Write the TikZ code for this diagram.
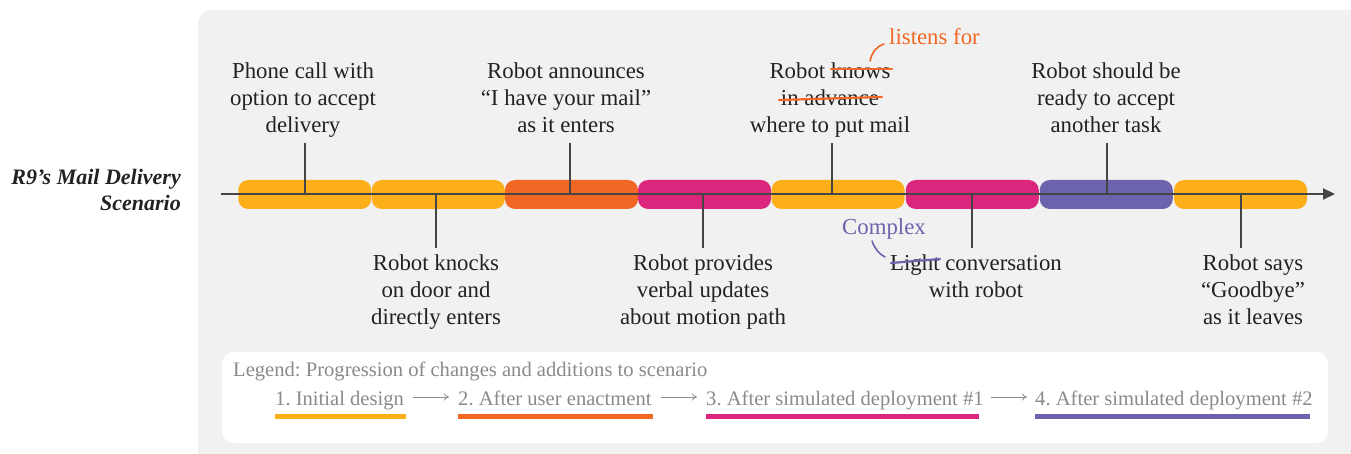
\documentclass[tikz,border=0pt]{standalone}
\usepackage{fontspec}
\setmainfont{Liberation Serif}
\usetikzlibrary{arrows.meta}
\frenchspacing
\definecolor{bgpanel}{HTML}{F1F1F1}
\definecolor{cOr}{HTML}{FDAF19}
\definecolor{cRd}{HTML}{F26724}
\definecolor{cMg}{HTML}{DC257C}
\definecolor{cPu}{HTML}{6C63AD}
\definecolor{txt}{HTML}{222222}
\definecolor{legtxt}{HTML}{8A8A8A}
\definecolor{axiscol}{HTML}{454545}
\begin{document}
\begin{tikzpicture}[x=1pt,y=-1pt,
  seg/.style={rounded corners=10pt, minimum width=133pt, minimum height=29pt, inner sep=0pt, outer sep=0pt},
  lbl/.style={align=center, text=txt, font=\fontsize{22.8}{27}\selectfont, inner sep=0pt, anchor=north},
  ticks/.style={draw=axiscol, line width=1.3pt},
  strk/.style={line width=2.2pt, line cap=round},
  legfont/.style={text=legtxt, font=\fontsize{20.6}{25}\selectfont, inner sep=0pt, anchor=base west},
  legbar/.style={line width=5pt},
  legarrow/.style={draw=legtxt, line width=0.8pt, -{To[length=5pt,width=7pt]}}]
\useasboundingbox (0,0) rectangle (1351,454);
% panel
\fill[bgpanel, rounded corners=14pt] (198,10) rectangle (1400,500);
% title
\node[align=right, anchor=base east, inner sep=0pt, text=txt, font=\fontsize{22}{26}\selectfont\bfseries\itshape] (title) at (181,211) {R9’s Mail Delivery\\Scenario};
% segments
\node[seg, fill=cOr] (s1) at (304.75,194.5) {};
\node[seg, fill=cOr] (s2) at (438.25,194.5) {};
\node[seg, fill=cRd] (s3) at (571.5,194.5) {};
\node[seg, fill=cMg] (s4) at (704.5,194.5) {};
\node[seg, fill=cOr] (s5) at (838,194.5) {};
\node[seg, fill=cMg] (s6) at (972.25,194.5) {};
\node[seg, fill=cPu] (s7) at (1106.25,194.5) {};
\node[seg, fill=cOr] (s8) at (1240.5,194.5) {};
% axis
\coordinate (a0) at (221,194);
\coordinate (a1) at (1335,194);
\draw[axiscol, line width=2pt, -{Triangle[length=12pt,width=11pt]}] (a0) -- (a1);
% labels above
\node[lbl] (t1) at (303,62.5) {Phone call with\\option to accept\\delivery};
\node[lbl] (t3) at (566,62.5) {Robot announces\\“I have your mail”\\as it enters};
\node[lbl] (t5) at (830,62.5) {Robot knows\\in advance\\where to put mail};
\node[lbl] (t7) at (1106,62.5) {Robot should be\\ready to accept\\another task};
% labels below
\node[lbl] (t2) at (436,254.6) {Robot knocks\\on door and\\directly enters};
\node[lbl] (t4) at (703,254.6) {Robot provides\\verbal updates\\about motion path};
\node[lbl] (t6) at (976,254.6) {Light conversation\\with robot};
\node[lbl] (t8) at (1253,254.6) {Robot says\\“Goodbye”\\as it leaves};
% ticks
\draw[ticks] (305,143) -- (305,194);
\draw[ticks] (570,143) -- (570,194);
\draw[ticks] (832,143) -- (832,194);
\draw[ticks] (1107,143) -- (1107,194);
\draw[ticks] (436,194) -- (436,248);
\draw[ticks] (703,194) -- (703,248);
\draw[ticks] (972,194) -- (972,248);
\draw[ticks] (1241,194) -- (1241,248);
% edits
\draw[cRd, strk] (831,69) -- (892,69);
\draw[cRd, strk] (779,100) -- (882,97);
\draw[cRd, line width=1.6pt, line cap=round] (870,61) .. controls (872,52) and (877,46) .. (884,44);
\node[anchor=base west, inner sep=0pt, text=cRd, font=\fontsize{22.8}{27}\selectfont] (ed1) at (889,45) {listens for};
\draw[cPu, strk] (891,263) -- (940,259);
\draw[cPu, line width=1.6pt, line cap=round] (872,241) .. controls (875,249) and (879,254) .. (885,257);
\node[anchor=base west, inner sep=0pt, text=cPu, font=\fontsize{22.8}{27}\selectfont] (ed2) at (842,235) {Complex};
% legend
\fill[white, rounded corners=12pt] (222,352) rectangle (1328,443);
\node[legfont] (lg) at (233,376) {Legend: Progression of changes and additions to scenario};
\node[legfont] (l1) at (275,405) {1. Initial design};
\node[legfont] (l2) at (458,405) {2. After user enactment};
\node[legfont] (l3) at (706,405) {3. After simulated deployment \#1};
\node[legfont] (l4) at (1035,405) {4. After simulated deployment \#2};
\draw[legarrow] (413,397) -- (449,397);
\draw[legarrow] (661,397) -- (697,397);
\draw[legarrow] (991,397) -- (1027,397);
\draw[legbar, cOr] (275,416.5) -- (406,416.5);
\draw[legbar, cRd] (458,416.5) -- (653,416.5);
\draw[legbar, cMg] (706,416.5) -- (979,416.5);
\draw[legbar, cPu] (1035,416.5) -- (1310,416.5);
\end{tikzpicture}
\end{document}
